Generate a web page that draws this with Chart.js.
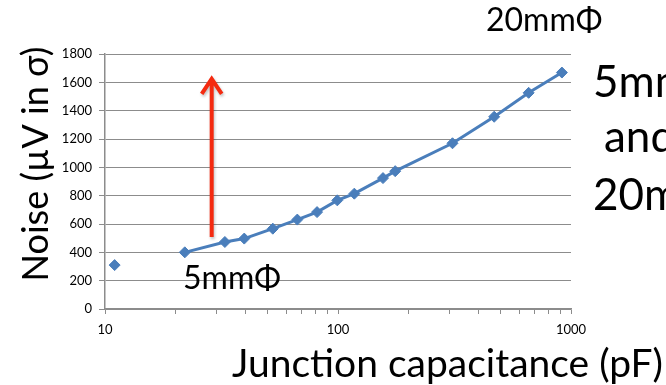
<!DOCTYPE html>
<html><head><meta charset="utf-8">
<script src="https://cdn.jsdelivr.net/npm/chart.js@4"></script>
<style>html,body{margin:0;padding:0;background:#fff}#w{width:666px;height:385px;position:relative}</style>
</head><body><div id="w"><canvas id="c"></canvas></div>
<script>
// Data
const capacitance = [22.0, 32.7, 39.6, 52.5, 66.9, 81.3, 99.3, 117.5, 156, 176, 310, 468, 658, 914];
const noise = [400, 473, 497, 567, 631, 684, 767, 814, 924, 973, 1170, 1357, 1526, 1669];
const isolatedCap = [11.0];
const isolatedNoise = [310];
const xMajorLabels = [10, 100, 1000];
const xMinorTicks = [20, 30, 40, 50, 60, 70, 80, 90, 200, 300, 400, 500, 600, 700, 800, 900];
const yTickValues = [0, 200, 400, 600, 800, 1000, 1200, 1400, 1600, 1800];
const arrowCap = [28.7];
const arrowNoise = [508, 1645];

const FONT = 'Lato, "Open Sans", sans-serif';
const BLUE = '#4a7ebb';
const GRID = '#8c8c8c';

const toXY = (xs, ys) => xs.map((x, i) => ({x, y: ys[i]}));

const annotations = {
  id: 'annotations',
  afterDatasetsDraw(chart) {
    const {ctx, scales: {x, y}} = chart;
    // Red arrow
    const ax = x.getPixelForValue(arrowCap[0]);
    const y0 = y.getPixelForValue(arrowNoise[0]);
    const y1 = y.getPixelForValue(arrowNoise[1]);
    ctx.save();
    ctx.shadowColor = 'rgba(0,0,0,0.25)';
    ctx.shadowBlur = 3;
    ctx.shadowOffsetX = 1; ctx.shadowOffsetY = 2;
    ctx.strokeStyle = '#f42a10';
    ctx.lineWidth = 4;
    ctx.lineCap = 'butt';
    ctx.lineJoin = 'miter';
    ctx.beginPath();
    ctx.moveTo(ax, y0);
    ctx.lineTo(ax, y1 + 2);
    ctx.moveTo(ax - 10, y1 + 18);
    ctx.lineTo(ax, y1 + 3);
    ctx.lineTo(ax + 10, y1 + 18);
    ctx.stroke();
    ctx.restore();

    ctx.save();
    ctx.fillStyle = '#000';
    ctx.textBaseline = 'alphabetic';
    ctx.textAlign = 'left';
    ctx.font = '32px ' + FONT;
    ctx.fillText('20mmΦ', 486, 31);
    ctx.fillText('5mmΦ', 183, 289);
    ctx.font = '44px ' + FONT;
    ctx.fillText('5mmΦ', 593, 97);
    ctx.fillText('and', 604, 152);
    ctx.fillText('20mmΦ', 593, 210);
    // axis titles
    ctx.font = '39px ' + FONT;
    ctx.textAlign = 'right';
    ctx.fillText('Junction capacitance (pF)', 663, 377);
    ctx.font = '36px ' + FONT;
    ctx.translate(48, 164);
    ctx.rotate(-Math.PI / 2);
    ctx.textAlign = 'center';
    ctx.fillText('Noise (µV in σ)', 0, 0);
    ctx.restore();
  }
};

new Chart(document.getElementById('c'), {
  type: 'scatter',
  data: {
    datasets: [
      {
        data: toXY(capacitance, noise),
        showLine: true,
        borderColor: BLUE,
        backgroundColor: BLUE,
        borderWidth: 3,
        pointStyle: 'rectRot',
        pointRadius: 5.5,
        pointBorderWidth: 1,
        tension: 0
      },
      {
        data: toXY(isolatedCap, isolatedNoise),
        showLine: false,
        borderColor: BLUE,
        backgroundColor: BLUE,
        pointStyle: 'rectRot',
        pointRadius: 5.5,
        pointBorderWidth: 1
      }
    ]
  },
  options: {
    responsive: true,
    maintainAspectRatio: false,
    animation: false,
    layout: {padding: {top: 54, right: 95, left: 0, bottom: 0}},
    plugins: {legend: {display: false}, tooltip: {enabled: false}},
    scales: {
      x: {
        type: 'logarithmic',
        min: 10, max: 1000,
        afterBuildTicks(scale) {
          scale.ticks = xMajorLabels.concat(xMinorTicks).sort((a, b) => a - b).map(v => ({value: v, major: xMajorLabels.includes(v)}));
        },
        afterFit(scale) { scale.height = 76; },
        ticks: {
          autoSkip: false, maxRotation: 0,
          color: '#000', padding: 8,
          font: {family: FONT, size: 13},
          callback: (v) => xMajorLabels.includes(v) ? String(v) : ''
        },
        grid: {drawOnChartArea: false, drawTicks: true, tickLength: 5, color: GRID, lineWidth: 1},
        border: {display: true, color: GRID, width: 1.5}
      },
      y: {
        min: 0, max: 1800,
        afterBuildTicks(scale) { scale.ticks = yTickValues.map(v => ({value: v})); },
        afterFit(scale) { scale.width = 105; },
        ticks: {color: '#000', padding: 7, font: {family: FONT, size: 13}, callback: (v) => String(v)},
        grid: {color: GRID, lineWidth: 1, tickLength: 6},
        border: {display: true, color: GRID, width: 1.5}
      }
    }
  },
  plugins: [annotations]
});
</script></body></html>
